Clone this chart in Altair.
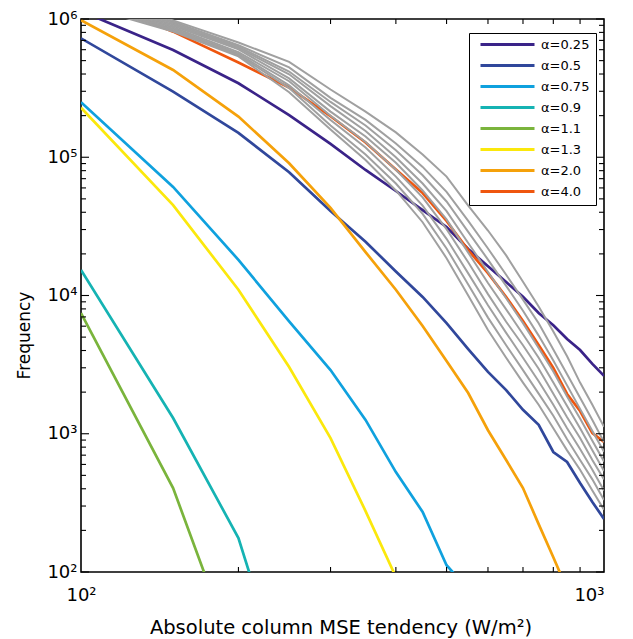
import altair as alt
import pandas as pd

# ---------------- data ----------------
x_vals = [100, 150, 200, 250, 300, 350, 400, 450, 500, 550,
          600, 650, 700, 750, 800, 850, 900, 950, 1000]

labels = ["α=0.25", "α=0.5", "α=0.75", "α=0.9", "α=1.1", "α=1.3", "α=2.0", "α=4.0"]
colors = ["#3a2388", "#30479b", "#0fa1de", "#15b3b3", "#7ab43c", "#fbe80c", "#f5a10a", "#ef560e"]

freq_a025 = [1.14e6, 5.97e5, 3.43e5, 2.02e5, 1.25e5, 8.09e4, 5.70e4, 4.15e4, 3.13e4, 2.17e4,
             1.63e4, 1.25e4, 9.80e3, 7.47e3, 6.10e3, 4.85e3, 4.03e3, 3.20e3, 2.62e3]
freq_a05 = [7.25e5, 2.98e5, 1.50e5, 7.80e4, 4.08e4, 2.45e4, 1.49e4, 9.76e3, 6.32e3, 4.10e3,
            2.80e3, 2.07e3, 1.49e3, 1.16e3, 738, 625, 440, 321, 242]
freq_a075 = [2.50e5, 6.10e4, 1.81e4, 6.50e3, 2.89e3, 1.26e3, 528, 272, 112, 75,
             None, None, None, None, None, None, None, None, None]
freq_a09 = [1.53e4, 1.30e3, 176, 12, None, None, None, None, None, None,
            None, None, None, None, None, None, None, None, None]
freq_a11 = [7.47e3, 405, 21, None, None, None, None, None, None, None,
            None, None, None, None, None, None, None, None, None]
freq_a13 = [2.28e5, 4.50e4, 1.10e4, 3.04e3, 931, 276, 92, None, None, None,
            None, None, None, None, None, None, None, None, None]
freq_a20 = [9.80e5, 4.28e5, 1.97e5, 9.04e4, 4.30e4, 2.06e4, 1.10e4, 6.02e3, 3.36e3, 1.97e3,
            1.06e3, 646, 405, 222, 128, 75, None, None, None]
freq_a40 = [1.50e6, 8.10e5, 4.84e5, 3.20e5, 1.98e5, 1.28e5, 8.17e4, 5.51e4, 3.46e4, 2.13e4,
            1.45e4, 9.75e3, 6.54e3, 4.38e3, 2.99e3, 1.94e3, 1.46e3, 1.01e3, 871]
series_values = [freq_a025, freq_a05, freq_a075, freq_a09, freq_a11, freq_a13, freq_a20, freq_a40]

# grey curves (other alpha values), given as log10(frequency)
gray_log10 = {
    "g1": [6.19, 5.99, 5.83, 5.69, 5.49, 5.33, 5.18, 5.02, 4.86, 4.65, 4.47, 4.29, 4.10, 3.92, 3.74, 3.56, 3.37, 3.21, 3.05],
    "g2": [6.17, 5.98, 5.81, 5.65, 5.43, 5.27, 5.10, 4.93, 4.75, 4.54, 4.34, 4.15, 3.97, 3.80, 3.61, 3.43, 3.26, 3.10, 2.94],
    "g3": [6.16, 5.97, 5.80, 5.62, 5.40, 5.23, 5.05, 4.87, 4.68, 4.46, 4.26, 4.07, 3.89, 3.71, 3.53, 3.35, 3.18, 3.02, 2.87],
    "g4": [6.15, 5.96, 5.79, 5.60, 5.37, 5.19, 5.00, 4.81, 4.61, 4.38, 4.17, 3.98, 3.80, 3.62, 3.45, 3.27, 3.11, 2.95, 2.80],
    "g5": [6.14, 5.95, 5.78, 5.57, 5.33, 5.15, 4.96, 4.76, 4.55, 4.31, 4.09, 3.90, 3.72, 3.55, 3.37, 3.20, 3.04, 2.88, 2.73],
    "g6": [6.13, 5.94, 5.76, 5.55, 5.30, 5.11, 4.91, 4.71, 4.48, 4.24, 4.01, 3.81, 3.64, 3.47, 3.29, 3.12, 2.97, 2.81, 2.67],
    "g7": [6.12, 5.93, 5.75, 5.52, 5.27, 5.07, 4.86, 4.65, 4.41, 4.16, 3.93, 3.73, 3.55, 3.38, 3.21, 3.04, 2.89, 2.74, 2.59],
    "g8": [6.11, 5.92, 5.74, 5.50, 5.23, 5.02, 4.81, 4.59, 4.34, 4.08, 3.84, 3.64, 3.46, 3.29, 3.13, 2.96, 2.81, 2.67, 2.52],
    "g9": [6.10, 5.91, 5.73, 5.47, 5.20, 4.98, 4.76, 4.53, 4.27, 4.00, 3.75, 3.55, 3.37, 3.21, 3.04, 2.88, 2.74, 2.59, 2.45],
}

x_major = [100, 1000]
x_minor = [200, 300, 400, 500, 600, 700, 800, 900]
y_major = [1e2, 1e3, 1e4, 1e5, 1e6]
y_minor = [k * 10 ** d for d in range(2, 6) for k in range(2, 10)]

# ---------------- tables ----------------
rows = []
for lab, vals in zip(labels, series_values):
    for i, (x, v) in enumerate(zip(x_vals, vals)):
        if v is not None:
            rows.append({"x": x, "freq": v, "series": lab, "order": i})
df_color = pd.DataFrame(rows)

grows = []
for name, vals in gray_log10.items():
    for i, (x, e) in enumerate(zip(x_vals, vals)):
        grows.append({"x": x, "freq": 10 ** e, "series": name, "order": i})
df_gray = pd.DataFrame(grows)

W, H = 523, 553
FONT = "DejaVu Sans"

x_scale = alt.Scale(type="log", domain=[100, 1000], nice=False)
y_scale = alt.Scale(type="log", domain=[100, 1e6], nice=False)

sup_expr = "'10' + ['⁰','¹','²','³','⁴','⁵','⁶'][round(log(datum.value)/LN10)]"

x_axis = alt.Axis(
    values=x_major, labelExpr=sup_expr, grid=False, ticks=False, tickSize=0, domain=False,
    labelFont=FONT, labelFontSize=18, labelColor="black", labelPadding=28,
    labelBaseline="alphabetic",
    labelAlign={"condition": {"test": "datum.value >= 1000", "value": "right"}, "value": "center"},
    labelOverlap=False,
    title="Absolute column MSE tendency (W/m²)", titleFont=FONT, titleFontSize=19.5,
    titleFontWeight="normal", titleColor="black", titleBaseline="alphabetic",
    titleY=61, titleX=W / 2 - 2, titleAlign="center",
)
y_axis = alt.Axis(
    values=y_major, labelExpr=sup_expr, grid=False, ticks=False, tickSize=0, domain=False,
    labelFont=FONT, labelFontSize=18, labelColor="black", labelPadding=4,
    labelAlign="right", labelBaseline="middle", labelOverlap=False,
    title="Frequency", titleFont=FONT, titleFontSize=17, titleFontWeight="normal",
    titleColor="black", titleAngle=270, titleAlign="center", titleBaseline="middle",
    titleX=-57, titleY=316,
)

X_ENC = alt.X("x:Q", scale=x_scale, axis=x_axis)
Y_ENC = alt.Y("freq:Q", scale=y_scale, axis=y_axis)

color_lines = alt.Chart(df_color).mark_line(strokeWidth=2.7, clip=True).encode(
    x=X_ENC,
    y=Y_ENC,
    order="order:Q",
    color=alt.Color(
        "series:N",
        scale=alt.Scale(domain=labels, range=colors),
        legend=alt.Legend(
            title=None, orient="none", legendX=388, legendY=14, direction="vertical",
            symbolType="stroke", symbolStrokeWidth=3, symbolSize=2916,
            labelFont=FONT, labelFontSize=13, labelColor="black",
            strokeColor="black", fillColor="white", padding=6,
            clipHeight=11, rowPadding=7, symbolOffset=4, labelOffset=5,
        ),
    ),
)

gray_lines = alt.Chart(df_gray).mark_line(strokeWidth=2, color="#a0a0a0", clip=True).encode(
    x=X_ENC,
    y=Y_ENC,
    detail="series:N",
    order="order:Q",
)


def xticks(vals, length):
    d = pd.DataFrame({"x": vals})
    base = alt.Chart(d).mark_rule(color="black", strokeWidth=1.1)
    bottom = base.encode(x=X_ENC, y=alt.value(H), y2=alt.value(H - length))
    top = base.encode(x=X_ENC, y=alt.value(0), y2=alt.value(length))
    return [bottom, top]


def yticks(vals, length):
    d = pd.DataFrame({"freq": vals})
    base = alt.Chart(d).mark_rule(color="black", strokeWidth=1.1)
    left = base.encode(y=Y_ENC, x=alt.value(0), x2=alt.value(length))
    right = base.encode(y=Y_ENC, x=alt.value(W), x2=alt.value(W - length))
    return [left, right]


tick_layers = xticks(x_minor, 5) + yticks(y_minor, 5) + yticks(y_major, 8)

chart = alt.layer(color_lines, gray_lines, *tick_layers).properties(
    width=W, height=H,
    padding={"left": 81, "top": 19, "right": 29, "bottom": 67},
    autosize=alt.AutoSizeParams(type="none"),
    background="white",
).configure_view(stroke="black", strokeWidth=1.6)

chart.save("out.html", embed_options={"renderer": "svg", "actions": False})
